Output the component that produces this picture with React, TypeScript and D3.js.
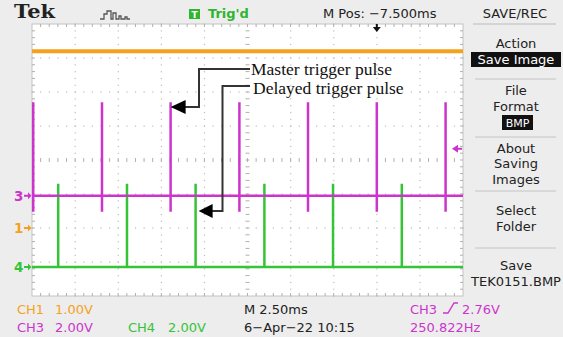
import * as d3 from "d3";

// time in ms relative to trigger point (M Pos -7.500ms, 2.5 ms/div)
const masterPulseTimes = [-19.93, -15.94, -11.96, -7.97, -3.99, 0, 3.99];
const delayedPulseTimes = [-18.48, -14.49, -10.51, -6.52, -2.54, 1.45];

// channel settings: vertical position (div) and volts/div
const ch1 = { pos: -2.0, vdiv: 1.0, color: "#f5a11c", level: 5.2 };
const ch3 = { pos: -1.05, vdiv: 2.0, color: "#cc35cc", peak: 5.5, dip: -0.95 };
const ch4 = { pos: -3.15, vdiv: 2.0, color: "#35c435", peak: 4.9 };
const triggerLevel = 2.76;

const menuItems = [
  { lines: ["Action"], boxed: "Save Image" },
  { lines: ["File", "Format"], boxed: "BMP" },
  { lines: ["About", "Saving", "Images"] },
  { lines: ["Select", "Folder"] },
  { lines: ["Save", "TEK0151.BMP"] },
];

const W = 563;
const H = 337;
const L = 32, R = 463, T = 24, B = 296;
const font = "DejaVu Sans, Liberation Sans, sans-serif";
const serif = "Liberation Serif, Times New Roman, serif";

export default function App() {
  const x = d3.scaleLinear().domain([-20, 5]).range([L, R]);
  const y = d3.scaleLinear().domain([-4, 4]).range([B, T]);
  const yc = (ch: { pos: number; vdiv: number }, v: number) => y(ch.pos + v / ch.vdiv);
  const line = d3.line<[number, number]>().x((d) => d[0]).y((d) => d[1]);

  const dx = (R - L) / 10;
  const dy = (B - T) / 8;

  // graticule dots
  const dots: JSX.Element[] = [];
  for (let i = 1; i < 10; i++) {
    if (i === 5) continue;
    for (let k = 0; k <= 40; k++) {
      dots.push(<rect key={"v" + i + "-" + k} x={L + i * dx - 0.5} y={T + (k * dy) / 5 - 0.5} width={1.2} height={1.2} fill="#bcbcbc" />);
    }
  }
  for (let j = 1; j < 8; j++) {
    if (j === 4) continue;
    for (let k = 0; k <= 50; k++) {
      dots.push(<rect key={"h" + j + "-" + k} x={L + (k * dx) / 5 - 0.5} y={T + j * dy - 0.5} width={1.2} height={1.2} fill="#bcbcbc" />);
    }
  }
  // ticks on border and center cross
  const ticks: JSX.Element[] = [];
  for (let k = 1; k < 50; k++) {
    const xx = L + (k * dx) / 5;
    ticks.push(<line key={"tt" + k} x1={xx} x2={xx} y1={T} y2={T + 3} stroke="#b0b0b0" />);
    ticks.push(<line key={"tb" + k} x1={xx} x2={xx} y1={B} y2={B - 3} stroke="#b0b0b0" />);
    ticks.push(<line key={"tc" + k} x1={xx} x2={xx} y1={(T + B) / 2 - 2} y2={(T + B) / 2 + 2} stroke="#b0b0b0" />);
  }
  for (let k = 1; k < 40; k++) {
    const yy = T + (k * dy) / 5;
    ticks.push(<line key={"tl" + k} x1={L} x2={L + 3} y1={yy} y2={yy} stroke="#b0b0b0" />);
    ticks.push(<line key={"tr" + k} x1={R} x2={R - 3} y1={yy} y2={yy} stroke="#b0b0b0" />);
    ticks.push(<line key={"tm" + k} x1={(L + R) / 2 - 2} x2={(L + R) / 2 + 2} y1={yy} y2={yy} stroke="#b0b0b0" />);
  }

  // CH3 trace
  const ch3Pts: [number, number][] = [[x(-20), yc(ch3, 0)]];
  masterPulseTimes.forEach((t) => {
    ch3Pts.push([x(t), yc(ch3, 0)], [x(t), yc(ch3, ch3.peak)], [x(t), yc(ch3, ch3.dip)], [x(t), yc(ch3, 0)]);
  });
  ch3Pts.push([x(5), yc(ch3, 0)]);
  const ch4Pts: [number, number][] = [[x(-20), yc(ch4, 0)]];
  delayedPulseTimes.forEach((t) => {
    ch4Pts.push([x(t), yc(ch4, 0)], [x(t), yc(ch4, ch4.peak)], [x(t), yc(ch4, 0)]);
  });
  ch4Pts.push([x(5), yc(ch4, 0)]);

  const marker = (label: string, yy: number, color: string) => (
    <g key={label}>
      <text x={14} y={yy + 5} fontSize={13.5} fontWeight="bold" fontFamily={font} fill={color}>{label}</text>
      <path d={`M24,${yy - 1} H28 V${yy - 3.5} L31.5,${yy} L28,${yy + 3.5} V${yy + 1} H24 Z`} fill={color} />
    </g>
  );

  const mx = x(masterPulseTimes[2]);
  const dxp = x(delayedPulseTimes[2]);
  const trigY = yc(ch3, triggerLevel);

  // menu layout
  const menuYs = [
    { base: [48], box: [52, 67, 64], sep: 79 },
    { base: [95, 111], box: [115, 130, 127], sep: 137 },
    { base: [153, 168, 184], sep: 191 },
    { base: [215, 231], sep: 248 },
    { base: [270, 286] },
  ];
  const cx = 516;

  return (
    <svg width={W} height={H} style={{ position: "fixed", left: 0, top: 0 }}>
      <rect width={W} height={H} fill="#ededed" />
      <rect x={L} y={T} width={R - L} height={B - T} fill="#ffffff" stroke="#c4c4c4" />
      {dots}
      {ticks}

      {/* traces */}
      <line x1={x(-20)} x2={x(5)} y1={yc(ch1, ch1.level)} y2={yc(ch1, ch1.level)} stroke={ch1.color} strokeWidth={4} />
      <path d={line(ch4Pts) || ""} fill="none" stroke={ch4.color} strokeWidth={2.5} />
      <path d={line(ch3Pts) || ""} fill="none" stroke={ch3.color} strokeWidth={2.5} />

      {/* channel markers */}
      {marker("3", yc(ch3, 0), ch3.color)}
      {marker("1", yc(ch1, 0), ch1.color)}
      {marker("4", yc(ch4, 0), ch4.color)}

      {/* trigger level arrow */}
      <path d={`M${R - 1},${trigY} H${R - 7}`} stroke={ch3.color} strokeWidth={2} />
      <path d={`M${R - 11},${trigY} L${R - 5},${trigY - 4} L${R - 5},${trigY + 4} Z`} fill={ch3.color} />
      {/* trigger position arrow */}
      <path d={`M${x(0)},${T} V${T + 4}`} stroke="#111" strokeWidth={2} />
      <path d={`M${x(0) - 4},${T + 3} L${x(0) + 4},${T + 3} L${x(0)},${T + 8} Z`} fill="#111" />

      {/* annotations */}
      <path d={`M250,69 H199 V${107} H${mx + 14}`} fill="none" stroke="#333" strokeWidth={2} />
      <path d={`M${mx},107 L${mx + 15},100 L${mx + 15},114 Z`} fill="#000" />
      <path d={`M250,86 H222.5 V211 H${dxp + 14}`} fill="none" stroke="#333" strokeWidth={2} />
      <path d={`M${dxp + 3},211 L${dxp + 17},204 L${dxp + 17},218 Z`} fill="#000" />
      <text x={251} y={75} fontSize={17.5} fontFamily={serif} fill="#111">Master trigger pulse</text>
      <text x={253} y={94} fontSize={17.5} fontFamily={serif} fill="#111">Delayed trigger pulse</text>

      {/* header */}
      <text x={14} y={18} fontSize={18} fontWeight="bold" fontFamily="DejaVu Serif, Liberation Serif, serif" textLength={41} lengthAdjust="spacingAndGlyphs" fill="#222">Tek</text>
      <path d="M100,19 H104 V14 H107 V11 H111 V19 H113 V13 H116 V19 H119 V16 H121 V19 H125 V17 H127 V19 H130" fill="none" stroke="#555" strokeWidth={1.3} />
      <rect x={189} y={9} width={11} height={10} fill="#2fb52f" />
      <text x={194.5} y={17.5} fontSize={9} fontWeight="bold" fontFamily={font} fill="#fff" textAnchor="middle">T</text>
      <text x={208} y={18} fontSize={13} fontWeight="bold" fontFamily={font} fill="#2fb52f">Trig'd</text>
      <text x={323} y={18} fontSize={13} fontFamily={font} fill="#222">M Pos: −7.500ms</text>
      <text x={515} y={18} fontSize={13} fontFamily={font} fill="#222" textAnchor="middle">SAVE/REC</text>
      <line x1={473} x2={556} y1={24} y2={24} stroke="#bbb" />

      {/* side menu */}
      {menuItems.map((m, i) => (
        <g key={i}>
          {m.lines.map((s, j) => (
            <text key={j} x={cx} y={menuYs[i].base[j]} fontSize={13} fontFamily={font} fill="#222" textAnchor="middle">{s}</text>
          ))}
          {m.boxed && (
            <g>
              <rect
                x={m.boxed.length > 4 ? 471 : 502}
                y={menuYs[i].box![0]}
                width={m.boxed.length > 4 ? 90 : 31}
                height={menuYs[i].box![1] - menuYs[i].box![0]}
                fill="#111"
              />
              <text x={m.boxed.length > 4 ? cx : 517.5} y={menuYs[i].box![2]} fontSize={m.boxed.length > 4 ? 13 : 11} fontFamily={font} fill="#fff" textAnchor="middle">{m.boxed}</text>
            </g>
          )}
          {menuYs[i].sep && <line x1={475} x2={556} y1={menuYs[i].sep} y2={menuYs[i].sep} stroke="#c4c4c4" />}
        </g>
      ))}

      {/* bottom readouts */}
      <g fontSize={13} fontFamily={font}>
        <text x={17} y={314} fill={ch1.color}>CH1</text>
        <text x={55} y={314} fill={ch1.color}>1.00V</text>
        <text x={244} y={314} fill="#222">M 2.50ms</text>
        <text x={410} y={314} fill={ch3.color}>CH3</text>
        <path d="M443,313 H448 L454,303 H458" fill="none" stroke={ch3.color} strokeWidth={1.4} />
        <text x={462} y={314} fill={ch3.color}>2.76V</text>
        <text x={17} y={332} fill={ch3.color}>CH3</text>
        <text x={55} y={332} fill={ch3.color}>2.00V</text>
        <text x={128} y={332} fill={ch4.color}>CH4</text>
        <text x={168} y={332} fill={ch4.color}>2.00V</text>
        <text x={244} y={332} fill="#222">6−Apr−22 10:15</text>
        <text x={410} y={332} fill={ch3.color}>250.822Hz</text>
      </g>
    </svg>
  );
}
